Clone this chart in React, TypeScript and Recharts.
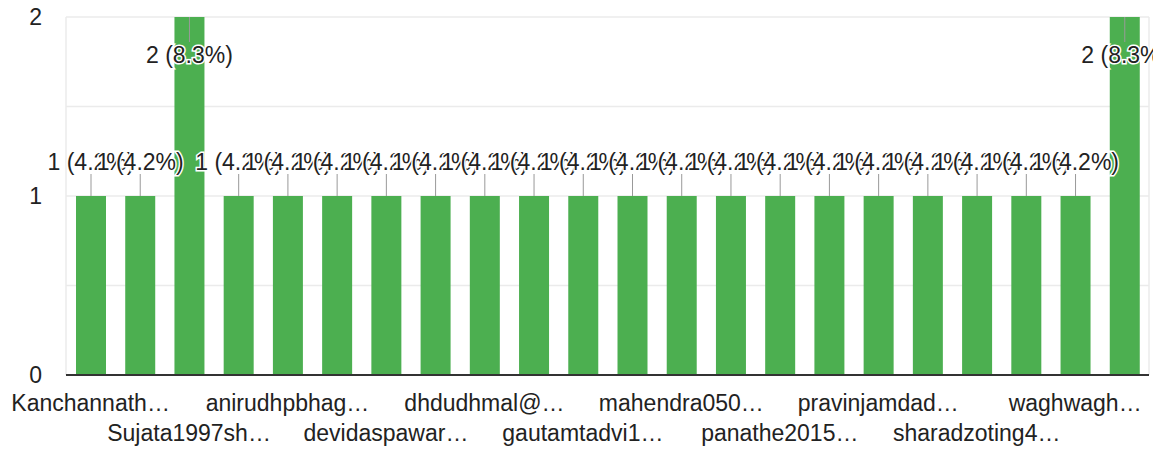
import { BarChart, Bar, XAxis, YAxis, CartesianGrid, LabelList } from "recharts"

// respondents (only every second name is printed on the axis, the rest are unreadable)
const names = [
  "Kanchannath…",
  "unlabelled-2",
  "Sujata1997sh…",
  "unlabelled-4",
  "anirudhpbhag…",
  "unlabelled-6",
  "devidaspawar…",
  "unlabelled-8",
  "dhdudhmal@…",
  "unlabelled-10",
  "gautamtadvi1…",
  "unlabelled-12",
  "mahendra050…",
  "unlabelled-14",
  "panathe2015…",
  "unlabelled-16",
  "pravinjamdad…",
  "unlabelled-18",
  "sharadzoting4…",
  "unlabelled-20",
  "waghwagh…",
  "unlabelled-22",
]
const counts = [1, 1, 2, 1, 1, 1, 1, 1, 1, 1, 1, 1, 1, 1, 1, 1, 1, 1, 1, 1, 1, 2]
const yTicks = [0, 0.5, 1, 1.5, 2]

const FONT = "'Liberation Sans', Arial, sans-serif"
const FONT_SIZE = 23

const total = counts.reduce((a, b) => a + b, 0)
const yMax = yTicks[yTicks.length - 1]
const data = names.map((name, i) => ({ name, value: counts[i] }))

// leader line + "n (x.x%)" with a white halo, like google forms
const renderValueLabel = (props: any) => {
  const { x, y, width, value } = props
  const cx = x + width / 2
  const text = `${value} (${((value / total) * 100).toFixed(1)}%)`
  const inside = value >= yMax
  const y2 = inside ? y + 25 : y - 22
  const ty = inside ? y + 46 : y - 26
  return (
    <g clipPath="url(#annClip)">
      <line x1={cx} x2={cx} y1={y} y2={y2} stroke="#999" strokeWidth={1} />
      <text
        x={cx}
        y={ty}
        textAnchor="middle"
        fontSize={FONT_SIZE}
        fontFamily={FONT}
        fill="#222"
        stroke="#fff"
        strokeWidth={3}
        paintOrder="stroke"
      >
        {text}
      </text>
    </g>
  )
}

// every other name, alternating between two rows
const NameTick = (props: any) => {
  const { x, y, index, payload } = props
  if (index % 2 !== 0) return null
  const row = (index / 2) % 2
  return (
    <text
      x={x}
      y={y + (row === 0 ? 36 : 66)}
      textAnchor="middle"
      fontSize={FONT_SIZE}
      fontFamily={FONT}
      fill="#222"
    >
      {payload.value}
    </text>
  )
}

export default function App() {
  return (
    <div style={{ position: "absolute", left: 0, top: 0, width: 1159, height: 452, background: "#fff" }}>
      <BarChart
        width={1159}
        height={452}
        data={data}
        margin={{ top: 17, right: 10, left: 0, bottom: 0 }}
      >
        <defs>
          <clipPath id="annClip">
            <rect x={0} y={0} width={1153} height={452} />
          </clipPath>
        </defs>
        <CartesianGrid
          stroke="#ebebeb"
          strokeWidth={1.5}
          verticalCoordinatesGenerator={({ offset }: any) => [offset.left, offset.left + offset.width]}
        />
        <XAxis
          dataKey="name"
          interval={0}
          height={77}
          tickSize={0}
          tickMargin={0}
          tickLine={false}
          axisLine={{ stroke: "#333", strokeWidth: 2 }}
          tick={<NameTick />}
        />
        <YAxis
          width={66}
          domain={[0, yMax]}
          ticks={yTicks}
          tickSize={0}
          tickMargin={24}
          tickLine={false}
          axisLine={false}
          tickFormatter={(v: number) => (Number.isInteger(v) ? String(v) : "")}
          tick={{ fill: "#222", fontSize: FONT_SIZE, fontFamily: FONT }}
        />
        <Bar dataKey="value" fill="#4caf50" barSize={30} isAnimationActive={false}>
          <LabelList dataKey="value" content={renderValueLabel} />
        </Bar>
      </BarChart>
    </div>
  )
}
